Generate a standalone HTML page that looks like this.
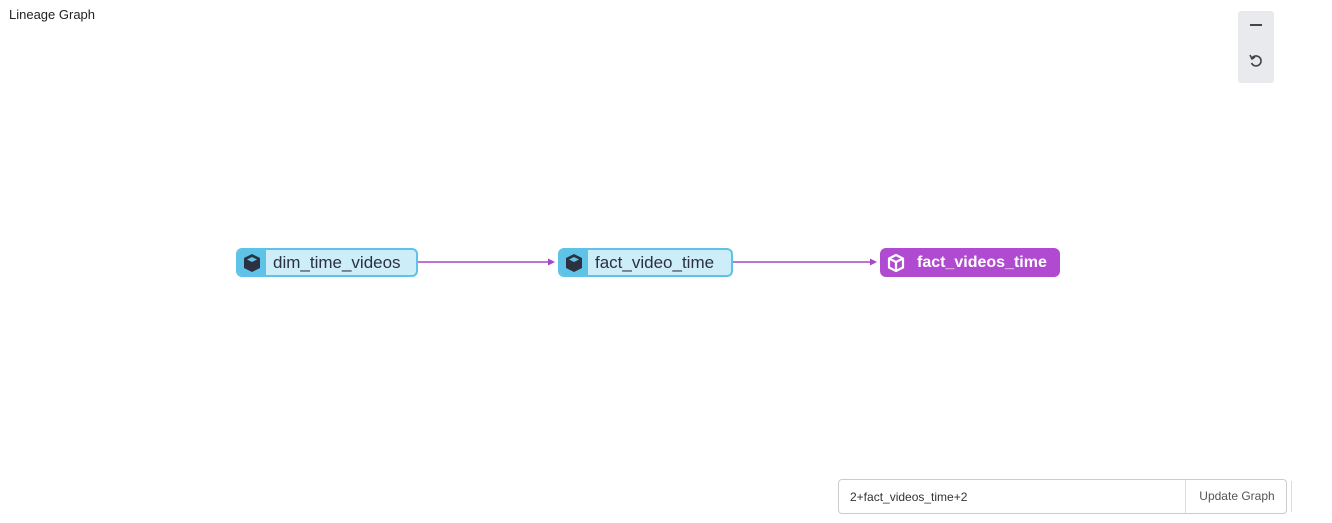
<!DOCTYPE html>
<html><head><style>
body{margin:0;width:1332px;height:523px;background:#fff;font-family:"Liberation Sans",sans-serif;position:relative;overflow:hidden}
.t{position:absolute;left:9px;top:7px;font-size:13px;color:#222}
.n{position:absolute;top:248px;height:29px;box-sizing:border-box;border-radius:6px;display:flex;align-items:center;font-size:17px;white-space:nowrap}
.b{background:#cdeef8;border:2px solid #5ec3e6;color:#2b3140}
.b .ic{background:#5ec3e6}
.p{background:#b04ad0;border:2px solid #b04ad0;color:#fff;font-weight:bold;font-size:16px}
.ic{width:28px;height:100%;display:flex;align-items:center;justify-content:center;margin-right:7px;border-radius:4px 0 0 4px}
.ctl{position:absolute;left:1238px;top:11px;width:36px;height:72px;background:#e9eaee;border-radius:3px}
.inp{position:absolute;left:838px;top:479px;width:449px;height:35px;border:1px solid #ccc;border-radius:4px;box-sizing:border-box;font-size:12px;color:#333}
</style></head><body>
<div class="t">Lineage Graph</div>
<div class="ctl">
<div style="position:absolute;left:12px;top:13px;width:12px;height:2px;background:#444"></div>
<svg style="position:absolute;left:11px;top:43px" width="14" height="14" viewBox="0 0 14 14"><path d="M3 4 A5 5 0 1 1 2.5 9" fill="none" stroke="#444" stroke-width="1.6"/><path d="M1 1 L3 5 L6 3" fill="none" stroke="#444" stroke-width="1.6"/></svg>
</div>
<svg style="position:absolute;left:0;top:0" width="1332" height="523">
<line x1="418" y1="262" x2="550" y2="262" stroke="#a946c8" stroke-width="1.5"/>
<polygon points="555,262 548,258.5 548,265.5" fill="#a946c8"/>
<line x1="733" y1="262" x2="872" y2="262" stroke="#a946c8" stroke-width="1.5"/>
<polygon points="877,262 870,258.5 870,265.5" fill="#a946c8"/>
</svg>
<div class="n b" style="left:236px;width:182px"><div class="ic"><svg width="20" height="20" viewBox="0 0 20 20"><path d="M10 1 L18 5 L18 15 L10 19 L2 15 L2 5Z" fill="#2b3140"/><path d="M10 4 L15 6.5 L10 9 L5 6.5Z" fill="#5ec3e6"/></svg></div>dim_time_videos</div>
<div class="n b" style="left:558px;width:175px"><div class="ic"><svg width="20" height="20" viewBox="0 0 20 20"><path d="M10 1 L18 5 L18 15 L10 19 L2 15 L2 5Z" fill="#2b3140"/><path d="M10 4 L15 6.5 L10 9 L5 6.5Z" fill="#5ec3e6"/></svg></div>fact_video_time</div>
<div class="n p" style="left:880px;width:180px"><div class="ic" style="margin-right:7px"><svg width="20" height="20" viewBox="0 0 20 20"><path d="M10 2 L17 5.5 L17 14.5 L10 18 L3 14.5 L3 5.5Z" fill="none" stroke="#fff" stroke-width="2.2" stroke-linejoin="round"/><path d="M3 5.5 L10 9 L17 5.5 M10 9 L10 18" fill="none" stroke="#fff" stroke-width="2.2"/></svg></div>fact_videos_time</div>
<div class="inp"><span style="position:absolute;left:11px;top:10px">2+fact_videos_time+2</span>
<div style="position:absolute;left:346px;top:0;bottom:0;border-left:1px solid #ddd;width:102px;text-align:center;line-height:33px;color:#555">Update Graph</div></div>
<div style="position:absolute;left:1291px;top:481px;height:31px;border-left:1px solid #ddd"></div>
</body></html>
